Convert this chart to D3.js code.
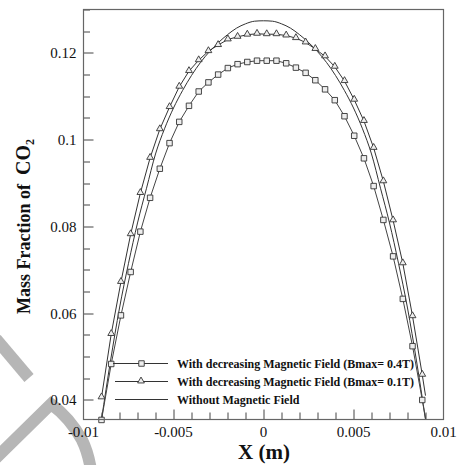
<!DOCTYPE html>
<html>
<head>
<meta charset="utf-8">
<script src="https://cdn.jsdelivr.net/npm/d3@7"></script>
<style>
  body { margin: 0; background: #fff; }
  text { font-family: "Liberation Serif", "Times New Roman", serif; fill: #111; }
</style>
</head>
<body>
<div id="chart"></div>
<script>
// marker positions along x (every 3rd grid point of the solution)
const markerX = [-0.009, -0.00846, -0.00792, -0.00738, -0.00684, -0.0063, -0.00576, -0.00522,
  -0.00468, -0.00414, -0.0036, -0.00306, -0.00252, -0.00198, -0.00144, -0.0009, -0.00036,
  0.00018, 0.00072, 0.00126, 0.0018, 0.00234, 0.00288, 0.00342, 0.00396, 0.0045, 0.00504,
  0.00558, 0.00612, 0.00666, 0.0072, 0.00774, 0.00828, 0.00882];

// With decreasing Magnetic Field (Bmax= 0.4T) - squares
const field04 = [0.0354, 0.0483, 0.0595, 0.0695, 0.0788, 0.0866, 0.0933, 0.0992, 0.1041, 0.1078,
  0.1111, 0.1132, 0.1150, 0.1165, 0.1174, 0.1179, 0.1182, 0.1182, 0.1182, 0.1176, 0.1166, 0.1154,
  0.1137, 0.1116, 0.1091, 0.1054, 0.1009, 0.0957, 0.0893, 0.0815, 0.0731, 0.0633, 0.0524, 0.0400];

// With decreasing Magnetic Field (Bmax= 0.1T) - triangles
const field01 = [0.0406, 0.0552, 0.0672, 0.0782, 0.0877, 0.0958, 0.1024, 0.1075, 0.1122, 0.1158,
  0.1183, 0.1204, 0.1218, 0.1231, 0.1237, 0.1242, 0.1244, 0.1243, 0.1243, 0.1240, 0.1234, 0.1224,
  0.1209, 0.1192, 0.1168, 0.1135, 0.1092, 0.1043, 0.0981, 0.0904, 0.0814, 0.0715, 0.0593, 0.0458];

// last grid point (no marker drawn there)
const endX = 0.009;
const field04End = 0.0357;
const field01End = 0.0410;

// Without Magnetic Field
const plainX = [-0.009, -0.0085, -0.008, -0.0075, -0.007, -0.0065, -0.006, -0.0055, -0.005, -0.0045,
  -0.004, -0.0035, -0.003, -0.0025, -0.002, -0.0015, -0.001, -0.0005, 0, 0.0005, 0.001, 0.0015,
  0.002, 0.0025, 0.003, 0.0035, 0.004, 0.0045, 0.005, 0.0055, 0.006, 0.0065, 0.007, 0.0075,
  0.008, 0.0085, 0.009];
const plainY = [0.0355, 0.0490, 0.0612, 0.0715, 0.0808, 0.0888, 0.0967, 0.1025, 0.1073, 0.1113,
  0.1148, 0.1178, 0.1203, 0.1224, 0.1242, 0.1257, 0.1267, 0.1273, 0.1274, 0.1273, 0.1267, 0.1257,
  0.1242, 0.1224, 0.1203, 0.1178, 0.1148, 0.1113, 0.1073, 0.1025, 0.0967, 0.0888, 0.0808, 0.0715,
  0.0612, 0.0490, 0.0355];

const xMajor = [-0.01, -0.005, 0, 0.005, 0.01];
const xLabels = ['-0.01', '-0.005', '0', '0.005', '0.01'];
const yMajor = [0.04, 0.06, 0.08, 0.1, 0.12];
const yLabels = ['0.04', '0.06', '0.08', '0.1', '0.12'];

const legendLabels = [
  'With decreasing Magnetic Field (Bmax= 0.4T)',
  'With decreasing Magnetic Field (Bmax= 0.1T)',
  'Without Magnetic Field'
];

const W = 459, H = 465;
const margin = {top: 9.5, right: 15.5, bottom: 45.5, left: 83.5};
const innerW = W - margin.left - margin.right;
const innerH = H - margin.top - margin.bottom;

const svg = d3.select('#chart').append('svg')
    .attr('width', W)
    .attr('height', H);

// faint grey watermark strokes in the lower left corner
const wm = svg.append('g')
    .attr('fill', 'none')
    .attr('stroke', '#b6b6b6')
    .attr('stroke-width', 12);
wm.append('path').attr('d', 'M-4,339 L29,378');
wm.append('path').attr('d', 'M-6,460 L51,404 Q70,418 82,440 Q88,452 91,470')
    .attr('stroke-linejoin', 'miter');

const x = d3.scaleLinear().domain([-0.01, 0.01]).range([0, innerW]);
const y = d3.scaleLinear().domain([0.0355, 0.13]).range([innerH, 0]);

const chart = svg.append('g')
    .attr('transform', `translate(${margin.left},${margin.top})`);

chart.append('clipPath').attr('id', 'plot-clip')
  .append('rect').attr('width', innerW).attr('height', innerH);

// ticks (inside, left and bottom only)
const yMinor = d3.range(0.04, 0.1301, 0.005);
chart.selectAll('.ytick')
    .data(yMinor)
  .join('line')
    .attr('class', 'ytick')
    .attr('x1', 0)
    .attr('x2', d => yMajor.some(m => Math.abs(m - d) < 1e-9) ? 10 : 6.5)
    .attr('y1', d => Math.round(y(d)) + 0.5)
    .attr('y2', d => Math.round(y(d)) + 0.5)
    .attr('stroke', '#444');

const xMinor = d3.range(-0.009, 0.0095, 0.001);
chart.selectAll('.xtick')
    .data(xMinor)
  .join('line')
    .attr('class', 'xtick')
    .attr('x1', d => Math.round(x(d)) + 0.5)
    .attr('x2', d => Math.round(x(d)) + 0.5)
    .attr('y1', innerH)
    .attr('y2', d => xMajor.some(m => Math.abs(m - d) < 1e-9) ? innerH - 10 : innerH - 7)
    .attr('stroke', '#444');

chart.selectAll('.ylabel')
    .data(yMajor)
  .join('text')
    .attr('class', 'ylabel')
    .attr('x', -7)
    .attr('y', d => y(d) + 5.5)
    .attr('text-anchor', 'end')
    .style('font-size', '15px')
    .text((d, i) => yLabels[i]);

chart.selectAll('.xlabel')
    .data(xMajor)
  .join('text')
    .attr('class', 'xlabel')
    .attr('x', d => x(d))
    .attr('y', innerH + 17)
    .attr('text-anchor', 'middle')
    .style('font-size', '15px')
    .text((d, i) => xLabels[i]);

// curves
const plot = chart.append('g').attr('clip-path', 'url(#plot-clip)');
const line = d3.line().x(d => x(d[0])).y(d => y(d[1]));

const sqData = markerX.map((v, i) => [v, field04[i]]);
const triData = markerX.map((v, i) => [v, field01[i]]);
const plainData = plainX.map((v, i) => [v, plainY[i]]);

plot.append('path')
    .datum(plainData)
    .attr('fill', 'none')
    .attr('stroke', '#333')
    .attr('stroke-width', 1)
    .attr('d', line.curve(d3.curveMonotoneX));

line.curve(d3.curveLinear);
plot.append('path')
    .datum(sqData.concat([[endX, field04End]]))
    .attr('fill', 'none')
    .attr('stroke', '#444')
    .attr('stroke-width', 1)
    .attr('d', line);

plot.append('path')
    .datum(triData.concat([[endX, field01End]]))
    .attr('fill', 'none')
    .attr('stroke', '#333')
    .attr('stroke-width', 1)
    .attr('d', line);

const squareSym = d3.symbol().type(d3.symbolSquare).size(30);
const triSym = d3.symbol().type(d3.symbolTriangle).size(20);

chart.selectAll('.sq')
    .data(sqData)
  .join('path')
    .attr('class', 'sq')
    .attr('transform', d => `translate(${x(d[0])},${y(d[1])})`)
    .attr('d', squareSym)
    .attr('fill', '#eee')
    .attr('stroke', '#333')
    .attr('stroke-width', 0.9);

chart.selectAll('.tri')
    .data(triData)
  .join('path')
    .attr('class', 'tri')
    .attr('transform', d => `translate(${x(d[0])},${y(d[1]) - 0.5})`)
    .attr('d', triSym)
    .attr('fill', '#eee')
    .attr('stroke', '#333')
    .attr('stroke-width', 0.9);

// frame
chart.append('rect')
    .attr('width', innerW)
    .attr('height', innerH)
    .attr('fill', 'none')
    .attr('stroke', '#666')
    .attr('stroke-width', 1.2);

// legend
const legend = chart.append('g')
    .attr('transform', `translate(${113 - margin.left},${363.5 - margin.top})`);
const legendRows = legend.selectAll('.legend-row')
    .data(legendLabels)
  .join('g')
    .attr('class', 'legend-row')
    .attr('transform', (d, i) => `translate(0,${i * 18})`);
legendRows.append('line')
    .attr('x1', (d, i) => i === 0 ? 0 : 2)
    .attr('x2', 55)
    .attr('stroke', '#333');
legendRows.filter((d, i) => i === 0).append('path')
    .attr('transform', 'translate(28.5,0)')
    .attr('d', squareSym)
    .attr('fill', '#eee').attr('stroke', '#333').attr('stroke-width', 0.9);
legendRows.filter((d, i) => i === 1).append('path')
    .attr('transform', 'translate(28,-0.5)')
    .attr('d', triSym)
    .attr('fill', '#eee').attr('stroke', '#333').attr('stroke-width', 0.9);
legendRows.append('text')
    .attr('x', 64)
    .attr('y', 4)
    .style('font-size', '12px')
    .style('font-weight', 'bold')
    .text(d => d);

// axis titles
svg.append('text')
    .attr('x', 264)
    .attr('y', 459)
    .attr('text-anchor', 'middle')
    .style('font-size', '21px')
    .style('font-weight', 'bold')
    .text('X (m)');

const yTitle = svg.append('text')
    .attr('transform', 'translate(30,314) rotate(-90)')
    .style('font-weight', 'bold');
yTitle.append('tspan').style('font-size', '18px').text('Mass Fraction of\u00a0\u00a0');
yTitle.append('tspan').style('font-size', '20px').text('CO');
yTitle.append('tspan').style('font-size', '12px').attr('dy', 4).text('2');
</script>
</body>
</html>
